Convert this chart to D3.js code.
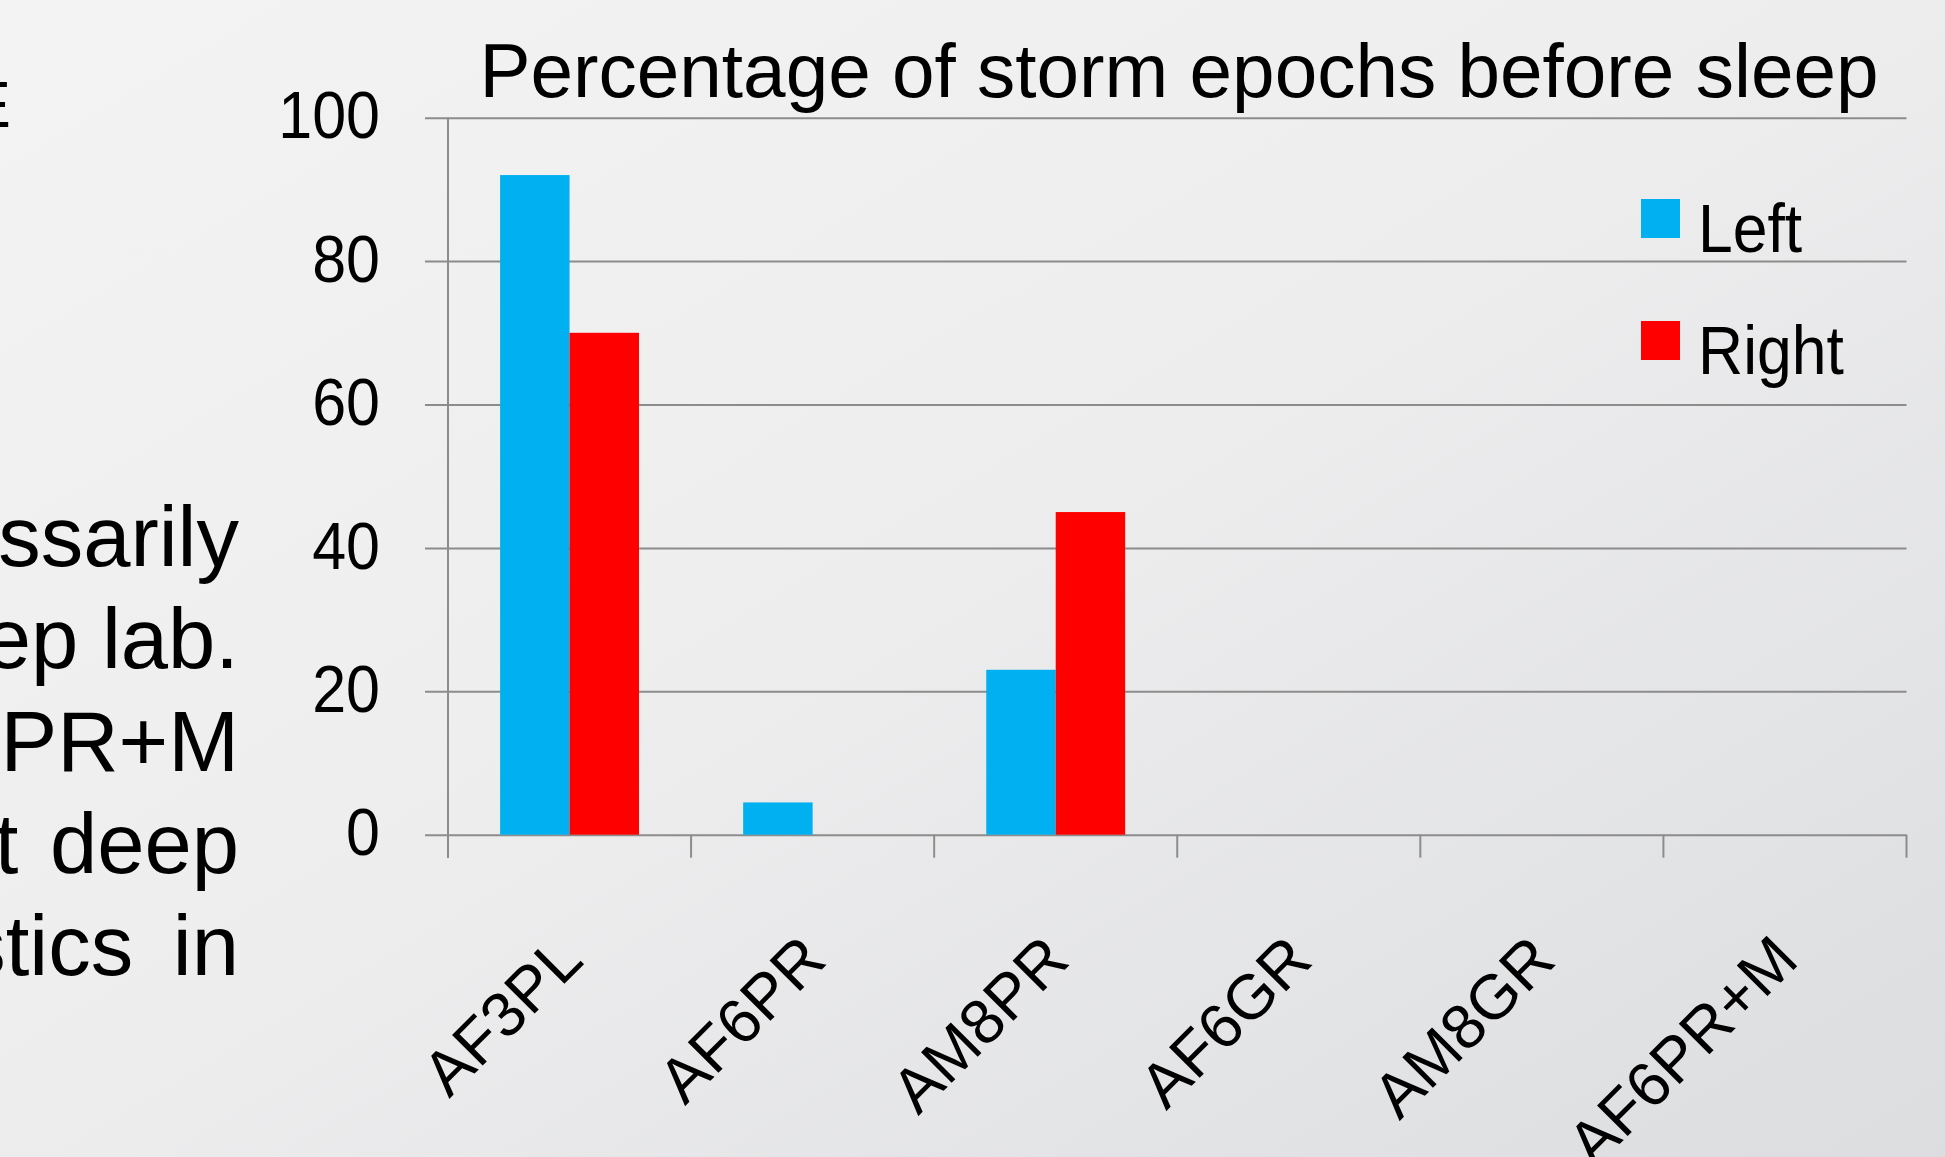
<!DOCTYPE html>
<html>
<head>
<meta charset="utf-8">
<script src="https://cdn.jsdelivr.net/npm/d3@7"></script>
<style>
  html, body { margin: 0; padding: 0; overflow: hidden; }
  svg { display: block; font-family: "Liberation Sans", Arial, sans-serif; }
</style>
</head>
<body>
<svg id="chart" width="1945" height="1157"></svg>
<script>
// Chart data
const categories = ["AF3PL", "AF6PR", "AM8PR", "AF6GR", "AM8GR", "AF6PR+M"];
const seriesNames = ["Left", "Right"];
const leftValues = [92, 4.5, 23, 0, 0, 0];
const rightValues = [70, 0, 45, 0, 0, 0];
const yTicks = [0, 20, 40, 60, 80, 100];
const titleText = "Percentage of storm epochs before sleep";
const sideLines = ["ssarily", "ep lab.", "PR+M", "t deep", "stics in"];

const colors = { Left: "#00B0F0", Right: "#FF0000" };
const gridColor = "#8c8c8c";

const W = 1945, H = 1157;
const plot = { left: 448, right: 1906.5, top: 117.7, bottom: 834.7 };
const tallText = "scale(1,1.1)";   // chart labels use a slightly tall face

const svg = d3.select("#chart");

// Slide background
const defs = svg.append("defs");
const grad = defs.append("linearGradient")
  .attr("id", "bg").attr("x1", "0").attr("y1", "0").attr("x2", "1").attr("y2", "1");
grad.append("stop").attr("offset", "0%").attr("stop-color", "#f3f3f3");
grad.append("stop").attr("offset", "45%").attr("stop-color", "#eeeeef");
grad.append("stop").attr("offset", "100%").attr("stop-color", "#dcdddf");
svg.append("rect").attr("width", W).attr("height", H).attr("fill", "url(#bg)");

// Body text of the slide, running in from the left edge
svg.append("text")
  .attr("x", 11).attr("y", 127)
  .attr("text-anchor", "end")
  .attr("font-size", 64)
  .attr("fill", "#000")
  .text("E");

const sideSpacing = [0, 0, 0, 8, 16];
svg.append("g").selectAll("text")
  .data(sideLines)
  .join("text")
  .attr("x", 239)
  .attr("y", (d, i) => 566 + i * 102.25)
  .attr("text-anchor", "end")
  .attr("font-size", 85)
  .attr("word-spacing", (d, i) => sideSpacing[i])
  .attr("fill", "#000")
  .text(d => d);

// Scales
const x = d3.scaleBand().domain(categories).range([plot.left, plot.right]).padding(0);
const xInner = d3.scaleBand().domain(seriesNames).range([0, x.bandwidth()])
  .paddingInner(0).paddingOuter(0.75);
const y = d3.scaleLinear().domain([0, 100]).range([plot.bottom, plot.top]);

// Horizontal gridlines (with outside tick stubs)
const stub = 23;
svg.append("g")
  .attr("transform", `translate(${plot.left - stub},0)`)
  .call(d3.axisRight(y).tickValues(yTicks).tickSize(plot.right - plot.left + stub).tickFormat(""))
  .call(g => g.select(".domain").remove())
  .call(g => g.selectAll(".tick line").attr("stroke", gridColor).attr("stroke-width", 2));

// Y axis labels
svg.append("g")
  .attr("transform", `translate(${plot.left},0)`)
  .call(d3.axisLeft(y).tickValues(yTicks).tickSize(0).tickPadding(68).tickFormat(d3.format("d")))
  .call(g => g.select(".domain").remove())
  .call(g => g.selectAll("text")
    .attr("font-family", "'Liberation Sans', Arial, sans-serif")
    .attr("font-size", 61).attr("fill", "#000")
    .attr("dy", "0.3em")
    .attr("transform", tallText));

// Bars
const groups = svg.append("g").selectAll("g")
  .data(categories)
  .join("g")
  .attr("transform", d => `translate(${x(d)},0)`);

groups.selectAll("rect")
  .data((d, i) => [
    { key: "Left", value: leftValues[i] },
    { key: "Right", value: rightValues[i] }
  ])
  .join("rect")
  .attr("x", d => xInner(d.key))
  .attr("width", xInner.bandwidth())
  .attr("y", d => y(d.value))
  .attr("height", d => y(0) - y(d.value))
  .attr("fill", d => colors[d.key]);

// Y axis line
svg.append("line")
  .attr("x1", plot.left).attr("x2", plot.left)
  .attr("y1", plot.top).attr("y2", plot.bottom + stub)
  .attr("stroke", gridColor).attr("stroke-width", 2);

// Category tick marks at band boundaries
const boundaries = categories.map(c => x(c)).concat([plot.right]);
svg.append("g").selectAll("line")
  .data(boundaries)
  .join("line")
  .attr("x1", d => d).attr("x2", d => d)
  .attr("y1", plot.bottom).attr("y2", plot.bottom + stub)
  .attr("stroke", gridColor).attr("stroke-width", 2);

// Category labels, rotated
svg.append("g")
  .attr("transform", `translate(0,${plot.bottom})`)
  .call(d3.axisBottom(x).tickSize(0).tickFormat(d => d))
  .call(g => g.select(".domain").remove())
  .call(g => g.selectAll("text")
    .attr("font-family", "'Liberation Sans', Arial, sans-serif")
    .attr("font-size", 63).attr("fill", "#000")
    .attr("text-anchor", "end")
    .attr("dy", 0).attr("y", 0)
    .attr("transform", "translate(16,128) rotate(-45)"));

// Title
svg.append("text")
  .attr("x", 1179).attr("y", 97)
  .attr("text-anchor", "middle")
  .attr("font-size", 76.5)
  .attr("fill", "#000")
  .text(titleText);

// Legend
const legend = svg.append("g").selectAll("g")
  .data(seriesNames)
  .join("g")
  .attr("transform", (d, i) => `translate(1641,${199 + i * 122})`);
legend.append("rect")
  .attr("width", 39).attr("height", 39)
  .attr("fill", d => colors[d]);
legend.append("text")
  .attr("transform", `translate(57,53) ${tallText}`)
  .attr("font-size", 62.5)
  .attr("fill", "#000")
  .text(d => d);
</script>
</body>
</html>
